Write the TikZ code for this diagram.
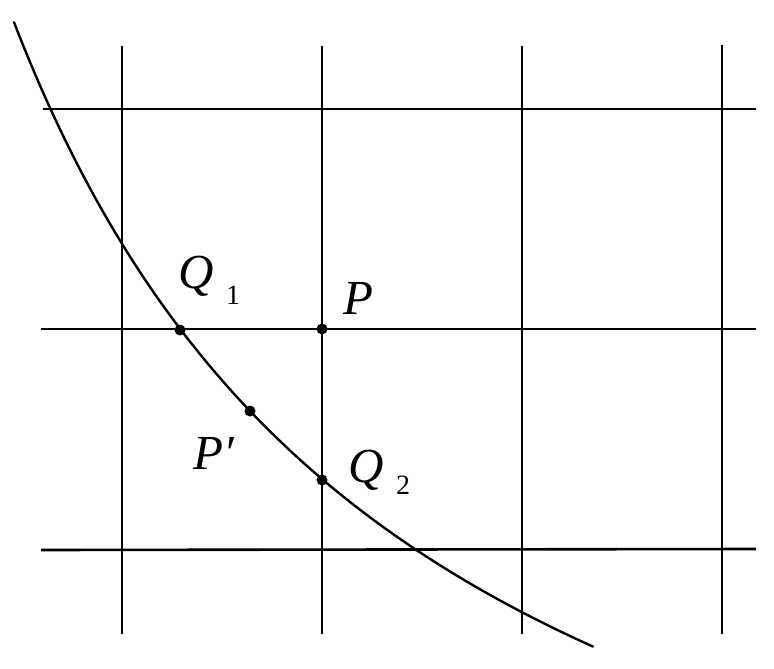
\documentclass[tikz,border=0pt]{standalone}
\usepackage{fontspec}
\setmainfont{Liberation Serif}
\begin{document}
\begin{tikzpicture}[x=1pt,y=-1pt,
  gridline/.style={line width=2.6pt,black},
  curveline/.style={line width=2.4pt,black},
  dot/.style={circle,fill=black,inner sep=0pt,minimum size=11pt},
  lbl/.style={anchor=base west,inner sep=0pt,font=\fontsize{49}{50}\selectfont\itshape},
  sub/.style={anchor=base west,inner sep=0pt,font=\fontsize{28}{30}\selectfont}]
\useasboundingbox (0,0) rectangle (774,669);
% grid coordinates
\coordinate (v1t) at (122,46); \coordinate (v1b) at (122,634);
\coordinate (v2t) at (322,46); \coordinate (v2b) at (322,634);
\coordinate (v3t) at (522,46); \coordinate (v3b) at (522,634);
\coordinate (v4t) at (722,45); \coordinate (v4b) at (722,634);
\coordinate (h1l) at (43,109); \coordinate (h1r) at (756,109);
\coordinate (h2l) at (41,329); \coordinate (h2r) at (756,329);
\coordinate (h3l) at (41,550); \coordinate (h3r) at (756,549);
\draw[gridline] (v1t) -- (v1b);
\draw[gridline] (v2t) -- (v2b);
\draw[gridline] (v3t) -- (v3b);
\draw[gridline] (v4t) -- (v4b);
\draw[gridline] (h1l) -- (h1r);
\draw[gridline] (h2l) -- (h2r);
\draw[gridline] (h3l) -- (h3r);
% curve (hyperbola fitted to the reference)
\draw[curveline,line cap=round] plot[domain=14:593,samples=120,smooth] (\x,{1093-4433/((\x+400)/100)});
% points
\node[dot] (Q1) at (180,330) {};
\node[dot] (P) at (322,329) {};
\node[dot] (Pp) at (250,411) {};
\node[dot] (Q2) at (322,480) {};
% labels
\node[lbl] (lQ1) at (178,288) {Q};
\node[sub] (lQ1s) at (226,304) {1};
\node[lbl] (lP) at (343,314) {P};
\node[lbl] (lPp) at (193,469) {P′};
\node[lbl] (lQ2) at (348,482) {Q};
\node[sub] (lQ2s) at (396,494) {2};
\end{tikzpicture}
\end{document}
